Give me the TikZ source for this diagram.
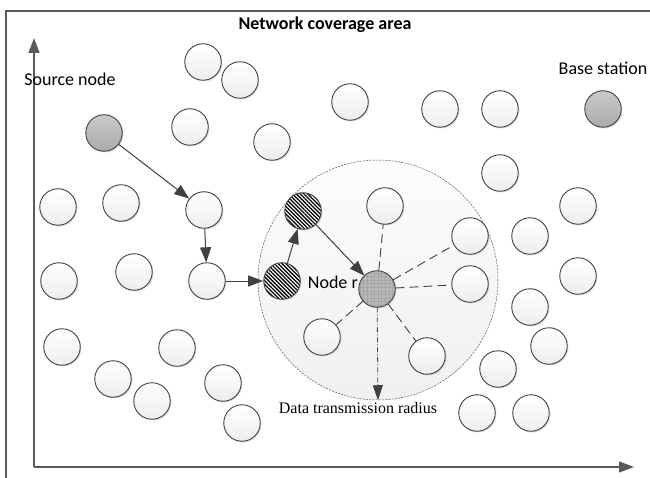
\documentclass[tikz,border=0pt]{standalone}
\usepackage{fontspec}
\setmainfont{Carlito}
\newfontfamily\timesfont{Liberation Serif}
\usetikzlibrary{arrows.meta,patterns.meta,shadows}

\definecolor{edgegray}{HTML}{404040}
\definecolor{framegray}{HTML}{5A5A5A}

\tikzset{
  sensor/.style={circle,draw=edgegray,line width=0.9pt,minimum size=36.5pt,inner sep=0pt,
    top color=white,bottom color=gray!14,
    drop shadow={shadow xshift=1.2pt,shadow yshift=-1.2pt,opacity=0.25}},
  endpoint/.style={sensor,top color=gray!42,bottom color=gray!66},
  relay/.style={circle,draw=edgegray,line width=0.9pt,minimum size=36.5pt,inner sep=0pt,
    drop shadow={shadow xshift=1.2pt,shadow yshift=-1.2pt,opacity=0.25},
    preaction={fill=white},pattern={Lines[angle=-45,distance=2.7pt,line width=1.3pt]},pattern color=black},
  target/.style={circle,draw=edgegray,line width=0.9pt,minimum size=36.5pt,inner sep=0pt,
    drop shadow={shadow xshift=1.2pt,shadow yshift=-1.2pt,opacity=0.25},
    preaction={fill=gray!55},pattern={Hatch[angle=0,distance=3.6pt,line width=0.3pt]},pattern color=gray!70},
  rangearea/.style={circle,minimum size=240pt,inner sep=0pt,draw=gray!70!black,line width=0.5pt,
    dash pattern=on 2pt off 1.2pt,top color=gray!2,bottom color=gray!12},
  hop/.style={edgegray,line width=1pt,-{Triangle[length=15pt,width=11pt]}},
  link/.style={edgegray,line width=0.9pt,dash pattern=on 9pt off 5pt},
  radiusline/.style={edgegray,line width=0.8pt,dash pattern=on 5pt off 2pt on 1pt off 2pt,-{Triangle[length=15pt,width=10pt]}},
  axis/.style={framegray,line width=1.3pt,-{Triangle[length=15pt,width=11pt]}},
  label/.style={font=\fontsize{18}{20}\selectfont,inner sep=0pt}
}

\begin{document}
\begin{tikzpicture}[x=1pt,y=-1pt]
\useasboundingbox (0,0) rectangle (650,478);

% frame and axes
\draw[framegray,line width=1.3pt] (6,478) -- (6,11) -- (650,11);
\coordinate (origin) at (34,467);
\coordinate (yend) at (34,38);
\coordinate (xend) at (634,467);
\draw[axis] (origin) -- (yend);
\draw[axis] (origin) -- (xend);

% transmission range of node r
\node[rangearea] (range) at (378,280) {};

% sensor nodes
\node[sensor] (1) at (203,62) {};
\node[sensor] (2) at (240,80) {};
\node[sensor] (3) at (190,127) {};
\node[sensor] (4) at (272,142) {};
\node[sensor] (5) at (350,102) {};
\node[sensor] (6) at (440,109) {};
\node[sensor] (7) at (500,109) {};
\node[sensor] (8) at (500,173) {};
\node[sensor] (9) at (58,207) {};
\node[sensor] (10) at (121,203) {};
\node[sensor] (11) at (385,206) {};
\node[sensor] (12) at (470,236) {};
\node[sensor] (13) at (530,236) {};
\node[sensor] (14) at (578,206) {};
\node[sensor] (15) at (59,281) {};
\node[sensor] (16) at (134,272) {};
\node[sensor] (17) at (470,284) {};
\node[sensor] (18) at (578,276) {};
\node[sensor] (19) at (530,307) {};
\node[sensor] (20) at (322,337) {};
\node[sensor] (21) at (427,356) {};
\node[sensor] (22) at (549,346) {};
\node[sensor] (23) at (498,369) {};
\node[sensor] (24) at (477,413) {};
\node[sensor] (25) at (531,413) {};
\node[sensor] (26) at (62,347) {};
\node[sensor] (27) at (113,379) {};
\node[sensor] (28) at (152,401) {};
\node[sensor] (29) at (177,348) {};
\node[sensor] (30) at (223,383) {};
\node[sensor] (31) at (242,423) {};

% routing path
\node[endpoint] (src) at (104,133) {};
\node[endpoint] (bs) at (603,109) {};
\node[sensor] (p1) at (204,210) {};
\node[sensor] (p2) at (207,281) {};
\node[relay] (h1) at (282,281) {};
\node[relay] (h2) at (303,211) {};
\node[target] (r) at (377,289) {};

\draw[hop] (src) edge (p1) (p1) edge (p2) (p2) edge (h1) (h1) edge (h2) (h2) edge (r);
\draw[link] (r)--(11) (r)--(12) (r)--(17) (r)--(20) (r)--(21);
\draw[radiusline] (r) -- (range.south);

% labels
\node[font=\fontsize{18}{20}\selectfont\bfseries,inner sep=0pt] (title) at (325,25) {Network coverage area};
\node[label] (srclabel) at (70,79) {Source node};
\node[label] (bslabel) at (603,68) {Base station};
\node[label,anchor=east] (rlabel) at (358,282) {Node r};
\node[font=\timesfont\fontsize{16}{18}\selectfont,inner sep=0pt] (radiuslabel) at (358,408) {Data transmission radius};
\end{tikzpicture}
\end{document}
